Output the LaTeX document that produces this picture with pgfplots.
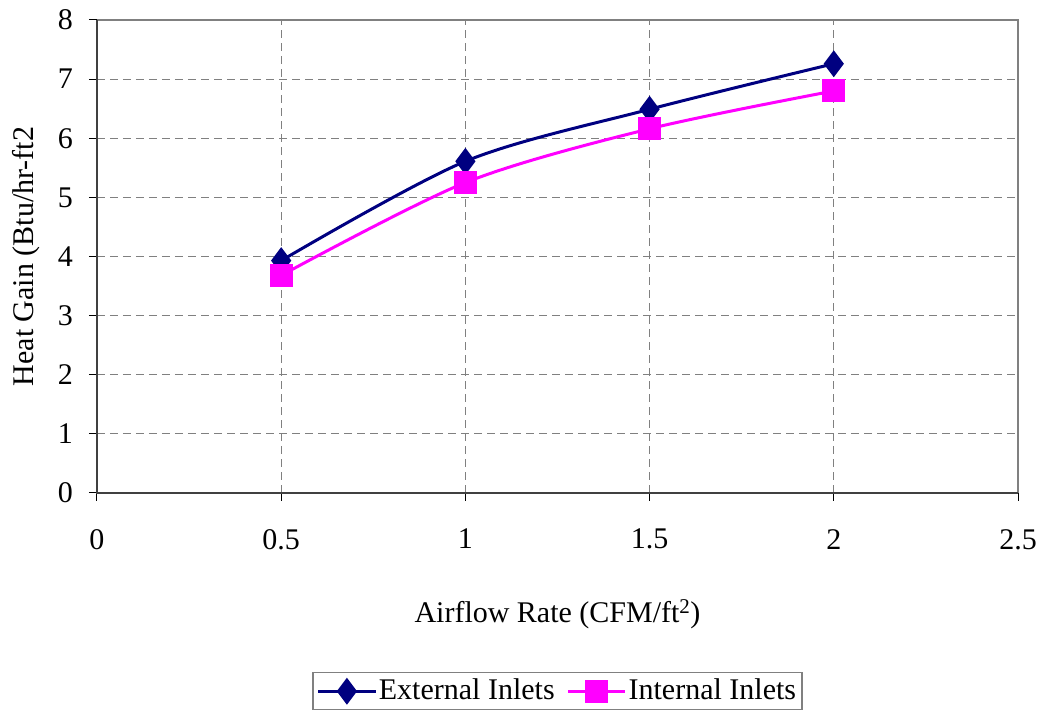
\documentclass[border=0pt]{standalone}
\usepackage{pgfplots}
\pgfplotsset{compat=1.18}
\usepackage{fontspec}
\setmainfont{Liberation Serif}
\definecolor{navy}{RGB}{0,0,128}
\definecolor{mag}{RGB}{255,0,255}
\definecolor{gridgray}{RGB}{128,128,128}
\begin{document}
\fontsize{30bp}{35bp}\selectfont
\begin{tikzpicture}
\begin{axis}[
  name=ax,
  scale only axis,
  width=921bp, height=473bp,
  xmin=0, xmax=2.5, ymin=0, ymax=8,
  xtick={0,0.5,...,2.5}, ytick={0,1,...,8},
  xticklabels={0,0.5,1,1.5,2,2.5},
  xtick pos=bottom, ytick pos=left,
  /pgf/number format/assume math mode=true,
  tick label style={font=\fontsize{30bp}{35bp}\selectfont},
  label style={font=\fontsize{30bp}{35bp}\selectfont},
  grid=major,
  major grid style={gridgray, line width=1.2bp, dash pattern=on 8bp off 5bp},
  axis line style={draw=none},
  tick align=outside,
  tick style={black, line width=1bp},
  major tick length=8bp,
  xticklabel style={yshift=-18bp},
  yticklabel style={xshift=-6bp},
  xlabel={Airflow Rate (CFM/ft\textsuperscript{2})},
  ylabel={Heat Gain (Btu/hr-ft2},
  xlabel style={yshift=-30bp},
  ylabel style={yshift=-2bp},
  legend style={at={(0.5,0)}, anchor=north, yshift=-179bp, draw=gridgray, line width=1.2bp,
    font=\fontsize{30bp}{35bp}\selectfont, legend columns=2, inner sep=4bp,
    /tikz/every even column/.append style={column sep=10bp}},
  legend image code/.code={\draw[#1, line width=3bp] (0bp,0bp) -- (57bp,0bp); \draw[#1, line width=3bp, mark repeat=2, mark phase=2] plot coordinates {(0bp,0bp) (28.5bp,0bp) (57bp,0bp)};},
  clip=false,
]
\draw[gridgray, line width=1.5bp] (rel axis cs:0,1) -- (rel axis cs:1,1) -- (rel axis cs:1,0);
\draw[black!75, line width=1.5bp] (rel axis cs:0,1) -- (rel axis cs:0,0) -- (rel axis cs:1,0);
\addplot[navy, line width=3bp, smooth, tension=0.5, mark=diamond*, mark size=11bp, mark options={solid, fill=navy}]
  coordinates {(0.5,3.93) (1,5.61) (1.5,6.49) (2,7.26)};
\addlegendentry{External Inlets}
\addplot[mag, line width=3bp, smooth, tension=0.5, mark=square*, mark size=10bp, mark options={solid, fill=mag}]
  coordinates {(0.5,3.68) (1,5.25) (1.5,6.16) (2,6.80)};
\addlegendentry{Internal Inlets}
\coordinate (bl) at (rel axis cs:0,0);
\coordinate (tr) at (rel axis cs:1,1);
\end{axis}
\pgfresetboundingbox
\useasboundingbox ([shift={(-97bp,-219bp)}]bl) rectangle ([shift={(22bp,20bp)}]tr);
\end{tikzpicture}
\end{document}
